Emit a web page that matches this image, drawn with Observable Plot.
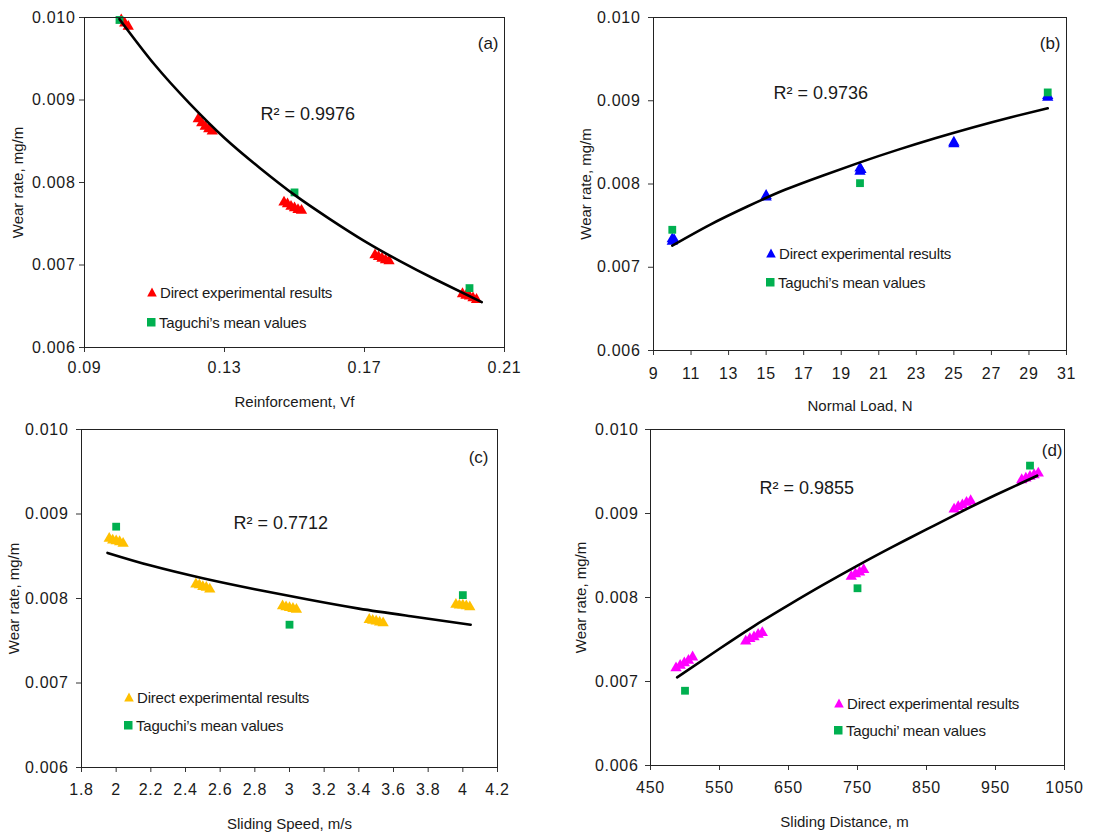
<!DOCTYPE html>
<html><head><meta charset="utf-8">
<script src="https://cdn.jsdelivr.net/npm/d3@7"></script>
<script src="https://cdn.jsdelivr.net/npm/@observablehq/plot@0.6"></script>
<style>
body{margin:0;background:#fff;}
#wrap{position:relative;width:1119px;height:834px;font-family:"Liberation Sans",Arial,sans-serif;color:#1a1a1a;overflow:hidden;}
.panel{position:absolute;}
.leg{position:absolute;font-size:15px;line-height:15px;white-space:nowrap;display:flex;align-items:center;color:#1a1a1a;}
.leg svg{margin-right:3px;}
g[aria-label="x-axis tick label"] text, g[aria-label="y-axis tick label"] text{letter-spacing:0.7px;}
</style></head><body><div id="wrap"></div>
<script>
// ---------- shared ----------
const yTicks = [0.006, 0.007, 0.008, 0.009, 0.010];
const yTitle = "Wear rate, mg/m";
const legendDirect = "Direct experimental results";
const legendTaguchi = "Taguchi\u2019s mean values";
const legendTaguchiD = "Taguchi\u2019 mean values";
const colTaguchi = "#00b050";

// ---------- panel (a) ----------
const aXTicks = [0.09, 0.13, 0.17, 0.21];
const aDirectX = [0.1005, 0.1015, 0.1025, 0.1225, 0.1235, 0.1245, 0.1255, 0.1265, 0.147, 0.148, 0.149, 0.150, 0.151, 0.152, 0.173, 0.174, 0.175, 0.176, 0.177, 0.198, 0.199, 0.200, 0.201, 0.202];
const aDirectY = [0.00997, 0.00993, 0.00989, 0.00877, 0.00872, 0.00868, 0.00865, 0.00862, 0.00776, 0.00774, 0.00771, 0.00769, 0.00767, 0.00766, 0.00712, 0.00710, 0.00708, 0.00706, 0.00705, 0.00665, 0.00663, 0.00662, 0.00660, 0.00658];
const aTagX = [0.10, 0.15, 0.20];
const aTagY = [0.00997, 0.00788, 0.00672];
const aFitX = [0.100, 0.110, 0.120, 0.130, 0.140, 0.150, 0.160, 0.170, 0.180, 0.190, 0.2035];
const aFitY = [0.00998, 0.00943, 0.00896, 0.00854, 0.00818, 0.00785, 0.00756, 0.00729, 0.00705, 0.00683, 0.00655];

// ---------- panel (b) ----------
const bXTicks = [9, 11, 13, 15, 17, 19, 21, 23, 25, 27, 29, 31];
const bDirectX = [10, 10, 10.1, 15, 15, 20, 20, 20.05, 25, 25, 30, 30];
const bDirectY = [0.00731, 0.00734, 0.00733, 0.00784, 0.00786, 0.00815, 0.00819, 0.00817, 0.00848, 0.00850, 0.00904, 0.00906];
const bTagX = [10, 20, 30];
const bTagY = [0.00745, 0.00801, 0.00910];
const bFitX = [10, 12, 14, 16, 18, 20, 22, 24, 26, 28, 30];
const bFitY = [0.00726, 0.00751, 0.00773, 0.00793, 0.00810, 0.00826, 0.00841, 0.00855, 0.00868, 0.00880, 0.00891];

// ---------- panel (c) ----------
const cXTicks = [1.8, 2, 2.2, 2.4, 2.6, 2.8, 3, 3.2, 3.4, 3.6, 3.8, 4, 4.2];
const cDirectX = [1.96, 1.98, 2.00, 2.02, 2.04, 2.46, 2.48, 2.50, 2.52, 2.54, 2.96, 2.98, 3.00, 3.02, 3.04, 3.46, 3.48, 3.50, 3.52, 3.54, 3.96, 3.98, 4.00, 4.02, 4.04];
const cDirectY = [0.00871, 0.00869, 0.00868, 0.00867, 0.00865, 0.00817, 0.00816, 0.00814, 0.00813, 0.00811, 0.00791, 0.00790, 0.00789, 0.00788, 0.00787, 0.00775, 0.00774, 0.00773, 0.00772, 0.00771, 0.00793, 0.00792, 0.00792, 0.00791, 0.00790];
const cTagX = [2, 3, 4];
const cTagY = [0.00885, 0.00769, 0.00804];
const cFitX = [1.95, 2.2, 2.5, 2.8, 3.1, 3.4, 3.7, 4.045];
const cFitY = [0.00854, 0.00839, 0.00824, 0.00811, 0.00799, 0.00788, 0.00779, 0.00769];

// ---------- panel (d) ----------
const dXTicks = [450, 550, 650, 750, 850, 950, 1050];
const dDirectX = [487, 493, 499, 505, 511, 588, 594, 600, 606, 612, 741, 747, 753, 759, 890, 896, 902, 908, 914, 988, 994, 1000, 1006, 1012];
const dDirectY = [0.00716, 0.00719, 0.00722, 0.00725, 0.00729, 0.00748, 0.00751, 0.00753, 0.00756, 0.00758, 0.00825, 0.00828, 0.00830, 0.00833, 0.00905, 0.00908, 0.00910, 0.00913, 0.00915, 0.00940, 0.00942, 0.00944, 0.00946, 0.00948];
const dTagX = [500, 750, 1000];
const dTagY = [0.00689, 0.00811, 0.00957];
const dFitX = [488.6, 550, 600, 650, 700, 750, 800, 850, 900, 950, 1010.4];
const dFitY = [0.00705, 0.00739, 0.00766, 0.00791, 0.00815, 0.00838, 0.00860, 0.00881, 0.00902, 0.00922, 0.00945];

const zip = (xs, ys) => xs.map((x, i) => ({x, y: ys[i]}));
const wrap = document.getElementById("wrap");
const FONT = "Liberation Sans, Arial, sans-serif";

function panel(o) {
  const svg = Plot.plot({
    width: o.width, height: o.height,
    marginLeft: o.ml, marginRight: o.mr, marginTop: o.mt, marginBottom: o.mb,
    style: {fontFamily: FONT, fontSize: "16px", color: "#1a1a1a", background: "white", overflow: "visible"},
    x: {domain: o.xDomain},
    y: {domain: [0.006, 0.010]},
    marks: [
      Plot.axisX({ticks: o.xTicks, tickFormat: d => String(d), tickSize: 5, tickPadding: o.xpad, label: null, fontSize: 16, stroke: "#333"}),
      Plot.axisY({ticks: yTicks, tickFormat: d3.format(".3f"), tickSize: 5, tickPadding: o.ypad, label: null, fontSize: 16, stroke: "#333"}),
      Plot.text([o.xLabel], {frameAnchor: "bottom", lineAnchor: "middle", dy: o.xtdy, dx: o.xtdx || 0, fontSize: 15, fill: "#1a1a1a"}),
      Plot.text([yTitle], {frameAnchor: "left", rotate: -90, textAnchor: "middle", lineAnchor: "middle", dx: o.ytdx, fontSize: 15, fill: "#1a1a1a"}),
      Plot.dot(zip(o.dX, o.dY), {x: "x", y: "y", symbol: "triangle", r: 4.2, fill: o.color, stroke: "none"}),
      Plot.dot(zip(o.tX, o.tY), {x: "x", y: "y", symbol: "square", r: 4.4, fill: colTaguchi, stroke: "none"}),
      Plot.line(zip(o.fX, o.fY), {x: "x", y: "y", curve: "natural", stroke: "#000", strokeWidth: 2.6}),
      Plot.frame({stroke: "#222", strokeWidth: 1}),
      Plot.text([o.r2], {frameAnchor: "top-left", textAnchor: "start", lineAnchor: "middle", dx: o.r2dx, dy: o.r2dy, fontSize: 18, fill: "#1a1a1a"}),
      Plot.text([o.tag], {frameAnchor: "top-right", textAnchor: "end", lineAnchor: "middle", dx: o.tagdx, dy: o.tagdy, fontSize: 17, fill: "#1a1a1a"})
    ]
  });
  const div = document.createElement("div");
  div.className = "panel";
  div.style.left = o.left + "px";
  div.style.top = o.top + "px";
  div.appendChild(svg);
  wrap.appendChild(div);
  // legend (inside plot area)
  const tri = `<svg width="10" height="10" viewBox="0 0 10 10"><polygon points="5,0.5 9.8,9.5 0.2,9.5" fill="${o.color}"/></svg>`;
  const sq = `<svg width="9" height="10" viewBox="0 0 9 10"><rect x="0" y="1" width="8.5" height="8.5" fill="${colTaguchi}"/></svg>`;
  const rows = [[tri, legendDirect, o.leg[1]], [sq, o.tagLabel, o.leg[2]]];
  for (const [sym, label, cy] of rows) {
    const l = document.createElement("div");
    l.className = "leg";
    l.style.left = (o.leg[0] - 5) + "px";
    l.style.top = (cy - 7.5) + "px";
    l.innerHTML = sym + `<span style="letter-spacing:-0.2px">${label}</span>`;
    wrap.appendChild(l);
  }
}

panel({left: 0, top: 0, width: 560, height: 417, ml: 84, mr: 56, mt: 17, mb: 70,
  xDomain: [0.09, 0.21], xTicks: aXTicks, xLabel: "Reinforcement, Vf", xpad: 9, ypad: 4, xtdy: 55, ytdx: -66,
  dX: aDirectX, dY: aDirectY, tX: aTagX, tY: aTagY, fX: aFitX, fY: aFitY, color: "#ff0000",
  r2: "R\u00b2 = 0.9976", r2dx: 176, r2dy: 97, tag: "(a)", tagdx: -6, tagdy: 26,
  leg: [152, 292, 322], tagLabel: legendTaguchi});

panel({left: 560, top: 0, width: 559, height: 417, ml: 93, mr: 53, mt: 17, mb: 67,
  xDomain: [9, 31], xTicks: bXTicks, xLabel: "Normal Load, N", xpad: 12, ypad: 8, xtdy: 56, ytdx: -67,
  dX: bDirectX, dY: bDirectY, tX: bTagX, tY: bTagY, fX: bFitX, fY: bFitY, color: "#0000ff",
  r2: "R\u00b2 = 0.9736", r2dx: 120, r2dy: 76, tag: "(b)", tagdx: -6, tagdy: 26,
  leg: [771, 253, 282], tagLabel: legendTaguchi});

panel({left: 0, top: 412, width: 560, height: 422, ml: 81, mr: 63, mt: 17, mb: 67,
  xDomain: [1.8, 4.2], xTicks: cXTicks, xLabel: "Sliding Speed, m/s", xpad: 11, ypad: 8, xtdy: 57, ytdx: -67,
  dX: cDirectX, dY: cDirectY, tX: cTagX, tY: cTagY, fX: cFitX, fY: cFitY, color: "#ffc000",
  r2: "R\u00b2 = 0.7712", r2dx: 152, r2dy: 94, tag: "(c)", tagdx: -9, tagdy: 28,
  leg: [129, 697, 725], tagLabel: legendTaguchi});

panel({left: 560, top: 412, width: 559, height: 422, ml: 90, mr: 55, mt: 17, mb: 69,
  xDomain: [450, 1050], xTicks: dXTicks, xLabel: "Sliding Distance, m", xpad: 11, ypad: 7, xtdy: 57, xtdx: -13, ytdx: -69,
  dX: dDirectX, dY: dDirectY, tX: dTagX, tY: dTagY, fX: dFitX, fY: dFitY, color: "#ff00ff",
  r2: "R\u00b2 = 0.9855", r2dx: 109, r2dy: 59, tag: "(d)", tagdx: -2, tagdy: 21,
  leg: [839, 703, 730], tagLabel: legendTaguchiD});
</script>
</body></html>
